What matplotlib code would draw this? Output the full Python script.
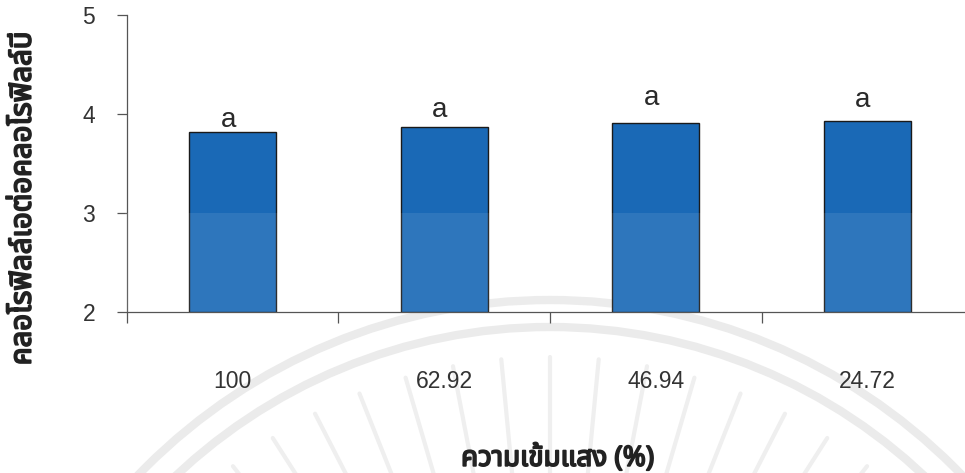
import numpy as np
import matplotlib
matplotlib.use('Agg')
import matplotlib.pyplot as plt
import matplotlib.patheffects as pe
from matplotlib import font_manager
from matplotlib.ft2font import FT2Font
from matplotlib.patches import Arc, Rectangle

light = ['100', '62.92', '46.94', '24.72']
ratio_ab = [3.82, 3.87, 3.91, 3.93]
letters = ['a', 'a', 'a', 'a']
letter_y = [3.87, 3.97, 4.09, 4.07]

ylabel = 'คลอโรฟิลล์เอต่อคลอโรฟิลล์บี'
xlabel = 'ความเข้มแสง (%)'


def thai_family():
    # first installed font that has Thai glyphs
    names = []
    for f in font_manager.fontManager.ttflist:
        try:
            if 0x0E04 in FT2Font(f.fname).get_charmap():
                names.append(f.name)
        except Exception:
            pass
    for pref in ['Noto Sans Thai', 'Noto Sans Thai UI', 'Loma', 'Garuda', 'Tlwg Typo']:
        if pref in names:
            return pref
    return names[0] if names else 'DejaVu Sans'


thai = thai_family()
num_font = ['Liberation Sans', 'DejaVu Sans']
heavy = [pe.withStroke(linewidth=1.3, foreground='#222222')]

fig = plt.figure(figsize=(9.65, 4.73), dpi=100)

# faint watermark behind the chart, in pixel space
bg = fig.add_axes([0, 0, 1, 1], zorder=0)
bg.set_xlim(0, 965)
bg.set_ylim(473, 0)
bg.axis('off')
cx, cy = 550, 872
for r in (572, 545):
    bg.add_patch(Arc((cx, cy), 2 * r, 2 * r, theta1=180, theta2=360,
                     color='#ebebeb', lw=6))
for ang in np.linspace(-38, 38, 15):
    t = np.deg2rad(ang)
    r0, r1 = 390, 515
    bg.plot([cx + r0 * np.sin(t), cx + r1 * np.sin(t)],
            [cy - r0 * np.cos(t), cy - r1 * np.cos(t)],
            color='#efefef', lw=3, solid_capstyle='round')

ax = fig.add_axes([0.1316, 0.3404, 0.8767, 0.6279], zorder=1)
ax.set_facecolor('none')
x = np.arange(len(light))
ax.bar(x, [v - 2 for v in ratio_ab], bottom=2, width=0.41,
       color='#1a69b6', edgecolor='#1a1a1a', linewidth=1.0, zorder=3)
for xi, y, s in zip(x, letter_y, letters):
    ax.text(xi - 0.02, y, s, ha='center', va='baseline',
            fontsize=20, family=num_font, color='#2a2a2a')

ax.set_xlim(-0.5, 3.5)
ax.set_ylim(2, 5)
ax.set_yticks([2, 3, 4, 5])
ax.set_xticks([-0.5, 0.5, 1.5, 2.5, 3.5])
ax.set_xticklabels([])
ax.set_xticks(x, minor=True)
ax.set_xticklabels(light, minor=True, family=num_font, fontsize=16.5, color='#333333')
ax.tick_params(axis='x', which='minor', length=0, pad=42)
ax.tick_params(axis='x', which='major', length=8, width=0.9, color='#555555')
ax.tick_params(axis='y', length=7, width=0.9, color='#555555', pad=16,
               labelsize=16.5, labelcolor='#333333')
for lab in ax.get_yticklabels():
    lab.set_family(num_font)
for side in ('top', 'right'):
    ax.spines[side].set_visible(False)
for side in ('left', 'bottom'):
    ax.spines[side].set_color('#555555')
    ax.spines[side].set_linewidth(0.9)

# lighter band over the lower part of the plot
fig.patches.append(Rectangle((0.13, 0.34), 0.87, 0.21, transform=fig.transFigure,
                             facecolor='white', alpha=0.09, zorder=5))

fig.text(0.578, 0.03, xlabel, ha='center', va='center', fontsize=20,
         fontweight='bold', family=[thai, 'DejaVu Sans'], color='#222222',
         path_effects=heavy)
fig.text(0.024, 0.58, ylabel, ha='center', va='center', rotation=90,
         fontsize=21, fontweight='bold', family=[thai, 'DejaVu Sans'],
         color='#222222', path_effects=heavy)

fig.savefig('out.png', dpi=100)
